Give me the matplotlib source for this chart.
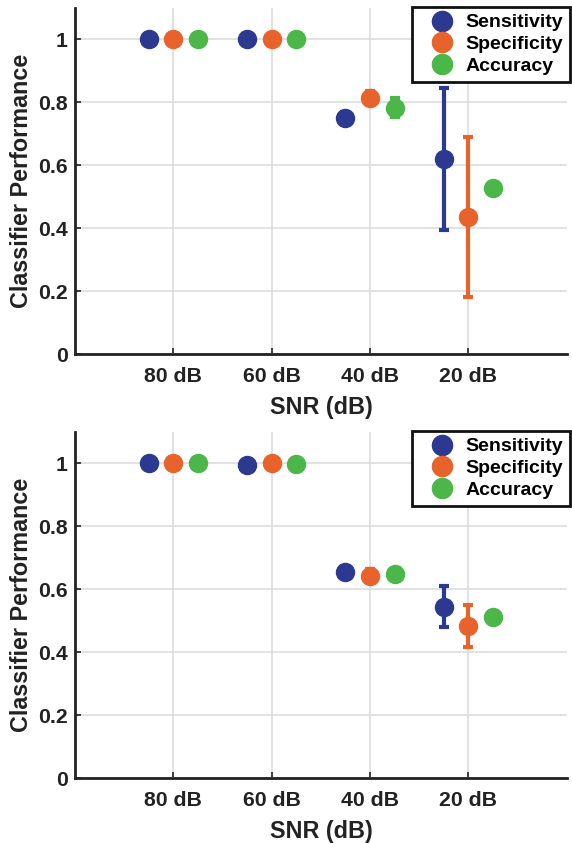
import matplotlib
matplotlib.use("Agg")
import matplotlib.pyplot as plt
from matplotlib.lines import Line2D
import numpy as np

plt.rcParams['font.family'] = ['Liberation Sans', 'DejaVu Sans']
plt.rcParams['font.weight'] = 'bold'

snr_labels = ['80 dB', '60 dB', '40 dB', '20 dB']
series = ['Sensitivity', 'Specificity', 'Accuracy']
colors = ['#2B3990', '#E8632B', '#4BB749']

# Top panel
top_vals = {
    'Sensitivity': [1.0, 1.0, 0.751, 0.620],
    'Specificity': [1.0, 1.0, 0.815, 0.435],
    'Accuracy':    [1.0, 1.0, 0.783, 0.527],
}
top_err = {
    'Sensitivity': [0.0, 0.0, 0.02, 0.225],
    'Specificity': [0.0, 0.0, 0.02, 0.255],
    'Accuracy':    [0.0, 0.0, 0.03, 0.0],
}
# Bottom panel
bot_vals = {
    'Sensitivity': [1.0, 0.994, 0.655, 0.545],
    'Specificity': [1.0, 1.0, 0.643, 0.483],
    'Accuracy':    [1.0, 0.997, 0.650, 0.512],
}
bot_err = {
    'Sensitivity': [0.0, 0.0, 0.0, 0.065],
    'Specificity': [0.0, 0.0, 0.02, 0.068],
    'Accuracy':    [0.0, 0.0, 0.0, 0.0],
}
offsets = [-0.25, 0.0, 0.25]

fig = plt.figure(figsize=(5.72, 8.43), dpi=100)
ax1 = fig.add_axes([0.131, 0.580, 0.860, 0.4105])
ax2 = fig.add_axes([0.131, 0.0771, 0.860, 0.4104])

def draw(ax, vals, errs):
    x = np.arange(1, len(snr_labels) + 1)
    for s, c, off in zip(series, colors, offsets):
        ax.errorbar(x + off, vals[s], yerr=errs[s], fmt='o', color=c,
                    ecolor=c, elinewidth=3, capsize=3.5, capthick=3,
                    markersize=13, zorder=3)
    ax.set_xlim(0, 5)
    ax.set_ylim(0, 1.1)
    ax.set_xticks(x)
    ax.set_xticklabels(snr_labels)
    ax.set_yticks([0, 0.2, 0.4, 0.6, 0.8, 1.0])
    ax.set_yticklabels(['0', '0.2', '0.4', '0.6', '0.8', '1'])
    ax.grid(True, color='#DDDDDD', linewidth=1.2, zorder=0)
    ax.set_axisbelow(True)
    for sp in ['top', 'right']:
        ax.spines[sp].set_visible(False)
    for sp in ['left', 'bottom']:
        ax.spines[sp].set_linewidth(2)
        ax.spines[sp].set_color('#222222')
    ax.tick_params(axis='both', direction='in', length=4, width=1.2, labelsize=15.3,
                   colors='#222222')
    ax.tick_params(axis='x', pad=9.5)
    ax.tick_params(axis='y', pad=5)
    for lbl in ax.get_xticklabels() + ax.get_yticklabels():
        lbl.set_fontweight('bold')
    ax.set_xlabel('SNR (dB)', fontsize=16.8, fontweight='bold', labelpad=7, color='#222222')
    ax.set_ylabel('Classifier Performance', fontsize=16.8, fontweight='bold',
                  labelpad=3.5, color='#222222')
    handles = [Line2D([], [], linestyle='none', marker='o', markersize=14.5,
                      color=c, label=s) for s, c in zip(series, colors)]
    leg = ax.legend(handles=handles, loc='upper right', bbox_to_anchor=(1.006, 1.003),
                    frameon=True, fancybox=False, edgecolor='#111111', fontsize=14,
                    handletextpad=0.0, borderpad=0.35, labelspacing=0.22,
                    handlelength=2.4, borderaxespad=0.0, framealpha=1.0)
    leg.get_frame().set_linewidth(2)
    for t in leg.get_texts():
        t.set_fontweight('bold')

draw(ax1, top_vals, top_err)
draw(ax2, bot_vals, bot_err)

fig.savefig('out.png', dpi=100)
